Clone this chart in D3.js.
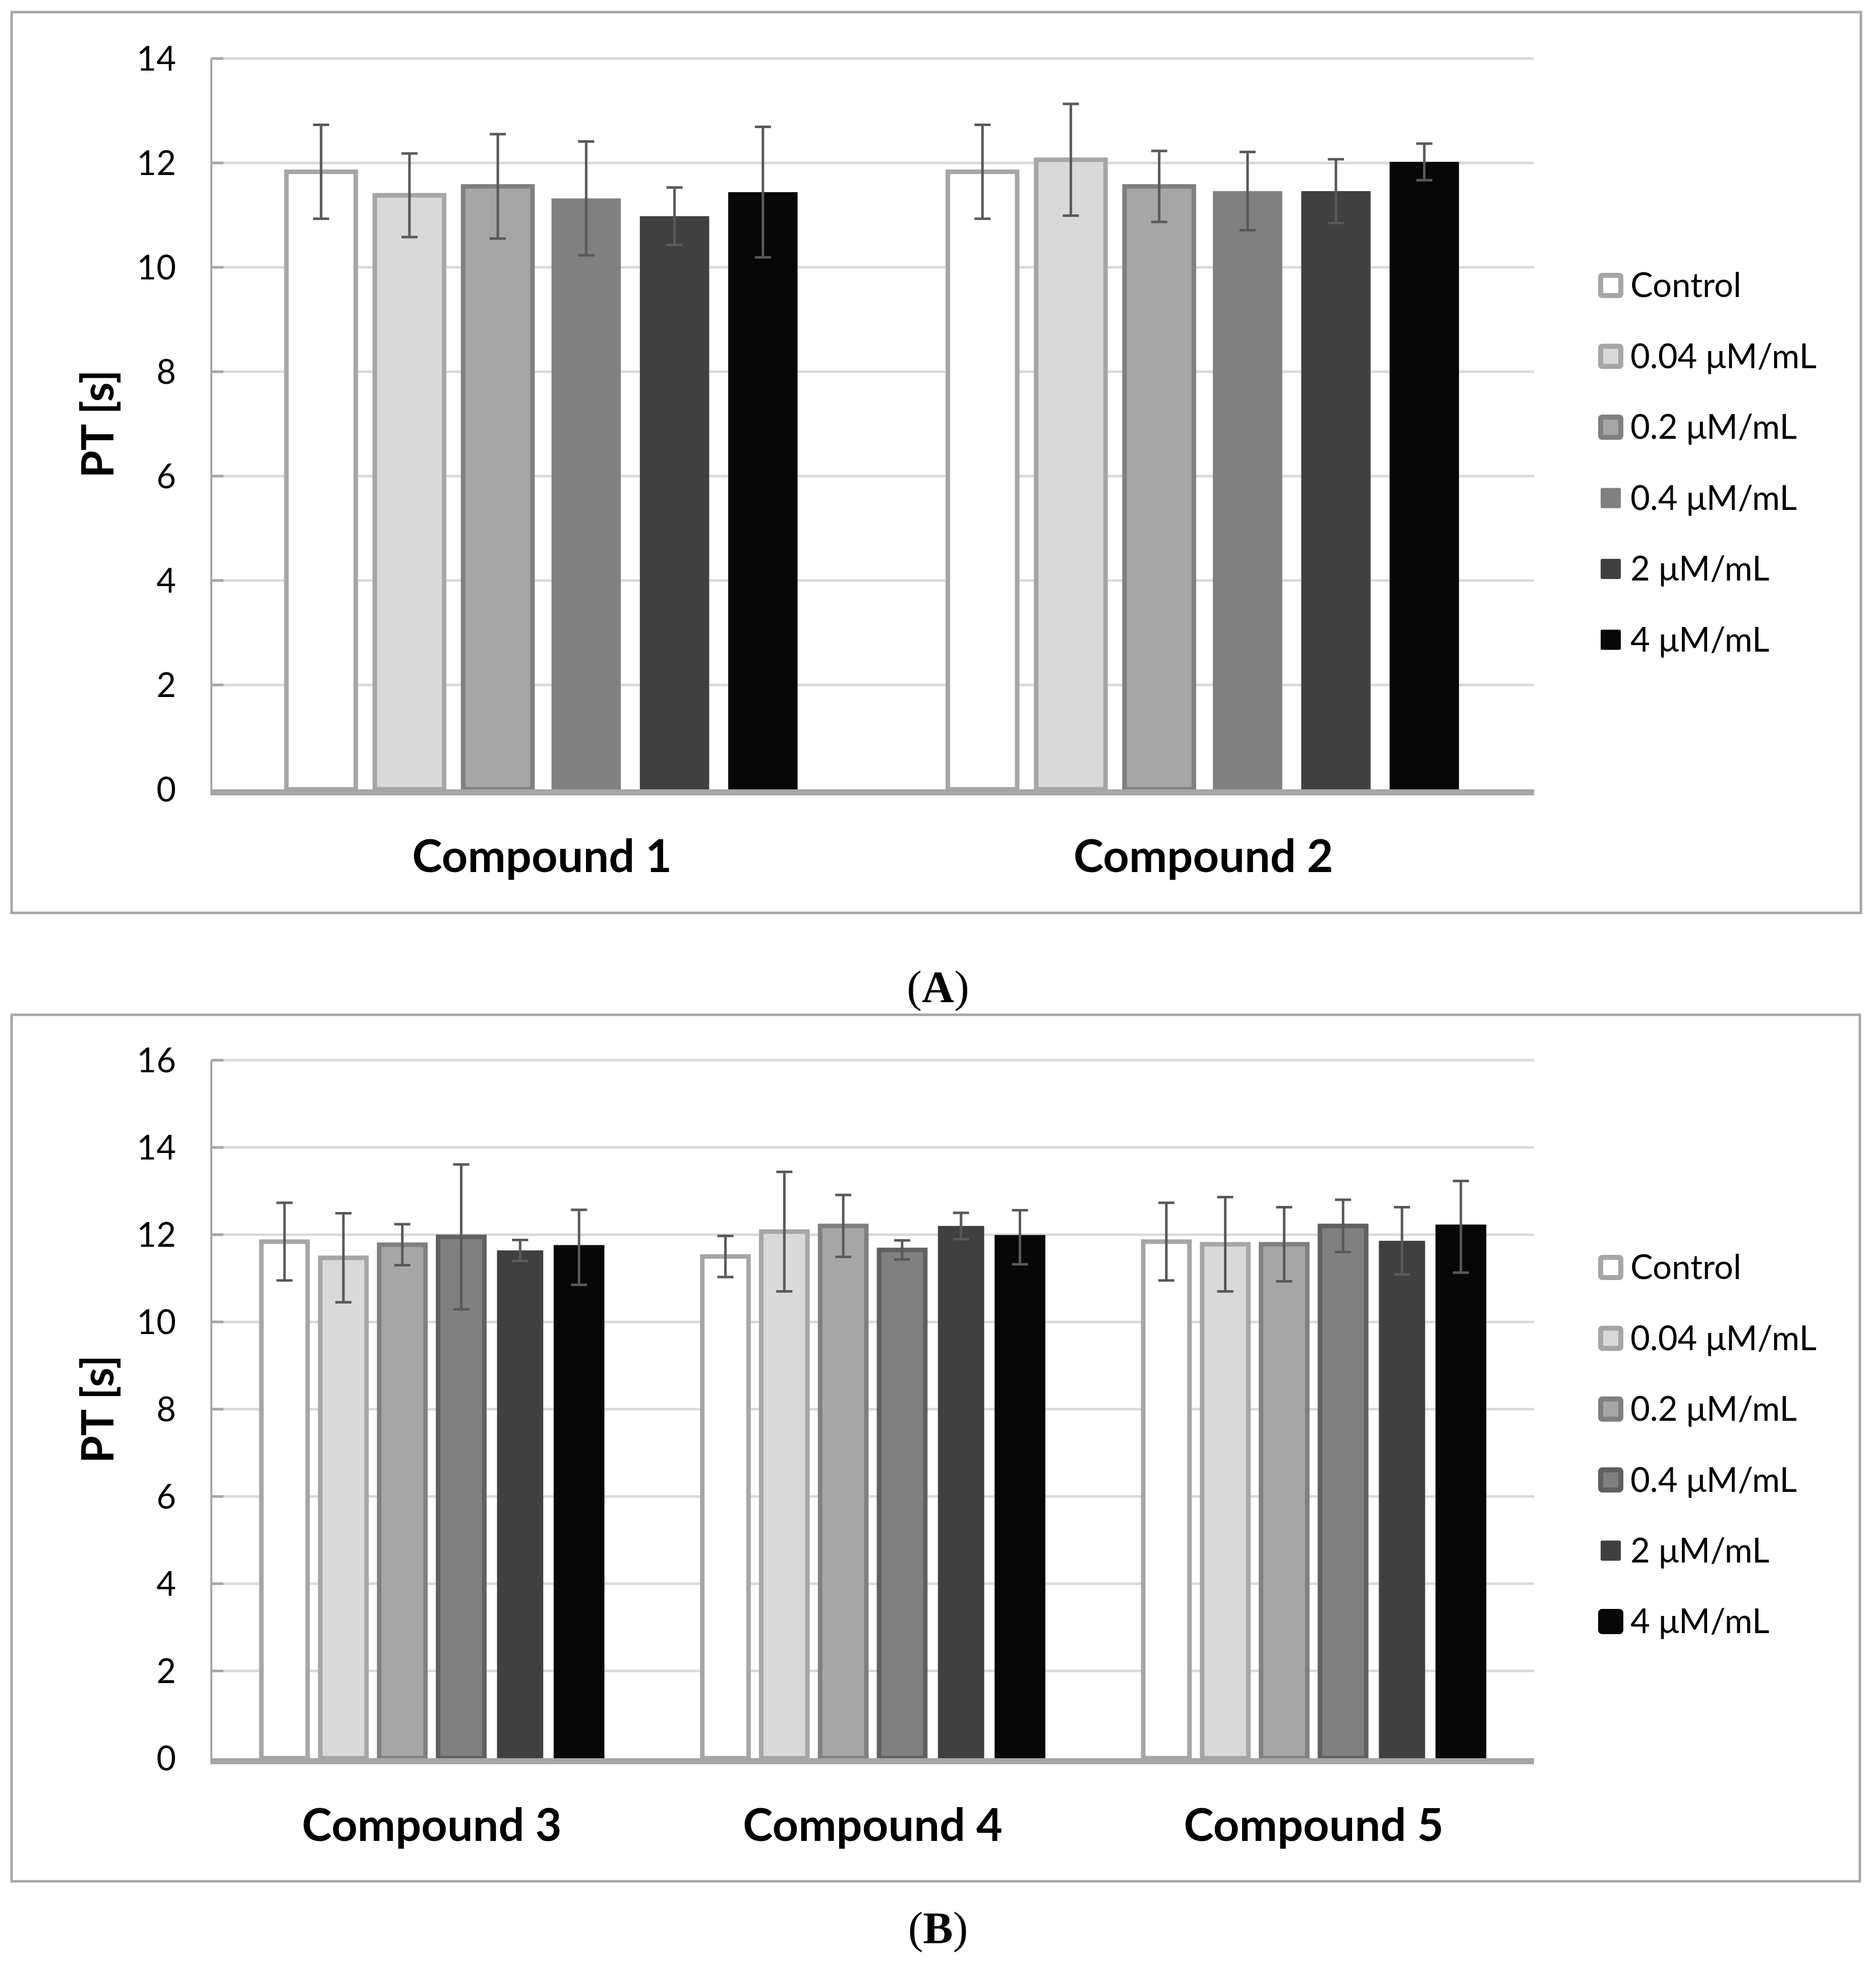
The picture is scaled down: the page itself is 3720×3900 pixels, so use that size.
<!DOCTYPE html>
<html>
<head>
<meta charset="utf-8">
<script src="https://cdn.jsdelivr.net/npm/d3@7"></script>
<style>
  html, body { margin: 0; padding: 0; background: #fff; }
  svg { display: block; }
</style>
</head>
<body>
<svg id="chart" width="3720" height="3900"></svg>
<script>
// ---------------- DATA ----------------
const seriesNames = ["Control", "0.04 μM/mL", "0.2 μM/mL", "0.4 μM/mL", "2 μM/mL", "4 μM/mL"];

const categoriesA = ["Compound 1", "Compound 2"];
const categoriesB = ["Compound 3", "Compound 4", "Compound 5"];

const compound1Mean = [11.83, 11.38, 11.55, 11.32, 10.98, 11.44];
const compound1Err  = [0.90, 0.80, 1.00, 1.09, 0.55, 1.25];
const compound2Mean = [11.83, 12.06, 11.55, 11.46, 11.46, 12.02];
const compound2Err  = [0.90, 1.07, 0.68, 0.75, 0.61, 0.35];
const compound3Mean = [11.84, 11.47, 11.77, 11.95, 11.64, 11.71];
const compound3Err  = [0.89, 1.02, 0.47, 1.66, 0.24, 0.86];
const compound4Mean = [11.50, 12.07, 12.20, 11.65, 12.20, 11.94];
const compound4Err  = [0.47, 1.37, 0.71, 0.22, 0.30, 0.62];
const compound5Mean = [11.84, 11.78, 11.78, 12.20, 11.86, 12.18];
const compound5Err  = [0.89, 1.08, 0.85, 0.60, 0.77, 1.05];

const ticksA = [0, 2, 4, 6, 8, 10, 12, 14];
const ticksB = [0, 2, 4, 6, 8, 10, 12, 14, 16];

const yTitle = "PT [s]";
const panelLetters = ["A", "B"];

// ---------------- STYLES ----------------
const fillColors = ["#ffffff", "#d9d9d9", "#a6a6a6", "#808080", "#404040", "#070707"];
const strokeA = ["#a6a6a6", "#a6a6a6", "#808080", null, null, null];
const strokeB = ["#a6a6a6", "#a6a6a6", "#808080", "#606060", null, "#070707"];

const FONT = "Lato, Carlito, Calibri, 'Noto Sans', sans-serif";

const svg = d3.select("#chart");
svg.append("rect").attr("width", 3720).attr("height", 3900).attr("fill", "#fff");

function buildRows(cats, means, errs) {
  return cats.map((c, i) => ({
    cat: c,
    values: seriesNames.map((s, j) => ({ series: s, idx: j, mean: means[i][j], err: errs[i][j] }))
  }));
}

function drawPanel(cfg) {
  const g = svg.append("g");

  // frame
  g.append("rect")
    .attr("x", cfg.frame.x).attr("y", cfg.frame.y)
    .attr("width", cfg.frame.w).attr("height", cfg.frame.h)
    .attr("fill", "none").attr("stroke", "#a6a6a6").attr("stroke-width", 5);

  const y = d3.scaleLinear().domain([0, cfg.yMax]).range([cfg.y0, cfg.yTop]);
  const x0 = d3.scaleBand().domain(cfg.rows.map(r => r.cat)).range([cfg.left, cfg.right]).padding(0);
  const x1 = d3.scaleBand().domain(seriesNames).range([0, x0.bandwidth()])
    .paddingInner(0.215).paddingOuter(0.85);

  // gridlines
  g.append("g").selectAll("line").data(cfg.ticks.filter(t => t > 0)).join("line")
    .attr("x1", cfg.left).attr("x2", cfg.right)
    .attr("y1", d => y(d)).attr("y2", d => y(d))
    .attr("stroke", "#d9d9d9").attr("stroke-width", 5);

  // tick marks (inside)
  g.append("g").selectAll("line").data(cfg.ticks.filter(t => t > 0)).join("line")
    .attr("x1", cfg.left).attr("x2", cfg.left + 24)
    .attr("y1", d => y(d)).attr("y2", d => y(d))
    .attr("stroke", "#a6a6a6").attr("stroke-width", 5);

  // y axis labels via d3 axis
  const axis = d3.axisLeft(y).tickValues(cfg.ticks).tickSize(0).tickPadding(70).tickFormat(d3.format("d"));
  const ax = g.append("g").attr("transform", `translate(${cfg.left},0)`).call(axis);
  ax.select(".domain").remove();
  ax.selectAll("text")
    .attr("font-family", FONT).attr("font-size", 67).attr("fill", "#000")
    .attr("dy", "0.35em");

  // bars
  const groups = g.append("g").selectAll("g").data(cfg.rows).join("g")
    .attr("transform", d => `translate(${x0(d.cat)},0)`);

  groups.selectAll("rect").data(d => d.values).join("rect")
    .attr("x", d => x1(d.series))
    .attr("width", x1.bandwidth())
    .attr("y", d => y(d.mean))
    .attr("height", d => y(0) - y(d.mean))
    .attr("fill", d => fillColors[d.idx])
    .attr("stroke", d => cfg.strokes[d.idx] || "none")
    .attr("stroke-width", 9);

  // error bars
  const eb = groups.selectAll("g.err").data(d => d.values).join("g").attr("class", "err");
  eb.append("line")
    .attr("x1", d => x1(d.series) + x1.bandwidth() / 2)
    .attr("x2", d => x1(d.series) + x1.bandwidth() / 2)
    .attr("y1", d => y(d.mean + d.err)).attr("y2", d => y(d.mean - d.err))
    .attr("stroke", "#595959").attr("stroke-width", 5);
  [1, -1].forEach(sgn => {
    eb.append("line")
      .attr("x1", d => x1(d.series) + x1.bandwidth() / 2 - 16)
      .attr("x2", d => x1(d.series) + x1.bandwidth() / 2 + 16)
      .attr("y1", d => y(d.mean + sgn * d.err)).attr("y2", d => y(d.mean + sgn * d.err))
      .attr("stroke", "#595959").attr("stroke-width", 5);
  });

  // y axis line
  g.append("line")
    .attr("x1", cfg.left).attr("x2", cfg.left)
    .attr("y1", cfg.yTop).attr("y2", cfg.y0 + 6)
    .attr("stroke", "#a6a6a6").attr("stroke-width", 4);

  // baseline (category axis)
  g.append("line")
    .attr("x1", cfg.left - 2).attr("x2", cfg.right)
    .attr("y1", y(0) + 6).attr("y2", y(0) + 6)
    .attr("stroke", "#a6a6a6").attr("stroke-width", 12);

  // category labels
  g.append("g").selectAll("text").data(cfg.rows).join("text")
    .attr("x", d => x0(d.cat) + x0.bandwidth() / 2)
    .attr("y", cfg.y0 + 164)
    .attr("text-anchor", "middle")
    .attr("font-family", FONT).attr("font-weight", "bold").attr("font-size", 90)
    .attr("fill", "#000")
    .text(d => d.cat);

  // y title
  g.append("text")
    .attr("transform", `translate(225,${(cfg.yTop + cfg.y0) / 2}) rotate(-90)`)
    .attr("text-anchor", "middle")
    .attr("font-family", FONT).attr("font-weight", "bold").attr("font-size", 88)
    .attr("fill", "#000")
    .text(yTitle);

  // legend
  const lg = g.append("g").selectAll("g").data(seriesNames).join("g")
    .attr("transform", (d, i) => `translate(0,${cfg.legendY[0] + i * cfg.legendStep})`);
  lg.append("rect")
    .attr("x", (d, i) => cfg.strokes[i] ? 3174 : 3174)
    .attr("y", -20)
    .attr("width", 40).attr("height", 40)
    .attr("rx", 3)
    .attr("fill", (d, i) => fillColors[i])
    .attr("stroke", (d, i) => cfg.strokes[i] || "none")
    .attr("stroke-width", 10);
  lg.append("text")
    .attr("x", 3233).attr("y", 0).attr("dy", "0.35em")
    .attr("font-family", FONT).attr("font-size", 67).attr("fill", "#000")
    .text(d => d);

  // panel letter
  const lt = svg.append("text")
    .attr("x", 1860).attr("y", cfg.letterY)
    .attr("text-anchor", "middle")
    .attr("font-family", "'Liberation Serif', 'DejaVu Serif', serif")
    .attr("font-size", 89).attr("fill", "#000");
  lt.append("tspan").text("(");
  lt.append("tspan").attr("font-weight", "bold").text(cfg.letter);
  lt.append("tspan").text(")");
}

drawPanel({
  frame: { x: 23, y: 24, w: 3667, h: 1786 },
  left: 419, right: 3042, yTop: 116, y0: 1565, yMax: 14,
  ticks: ticksA,
  rows: buildRows(categoriesA, [compound1Mean, compound2Mean], [compound1Err, compound2Err]),
  strokes: strokeA,
  legendY: [566], legendStep: 140.5,
  letter: panelLetters[0], letterY: 1986
});

drawPanel({
  frame: { x: 23, y: 2012, w: 3665, h: 1718 },
  left: 419, right: 3042, yTop: 2102, y0: 3486, yMax: 16,
  ticks: ticksB,
  rows: buildRows(categoriesB, [compound3Mean, compound4Mean, compound5Mean], [compound3Err, compound4Err, compound5Err]),
  strokes: strokeB,
  legendY: [2513], legendStep: 140.4,
  letter: panelLetters[1], letterY: 3852
});
</script>
</body>
</html>
